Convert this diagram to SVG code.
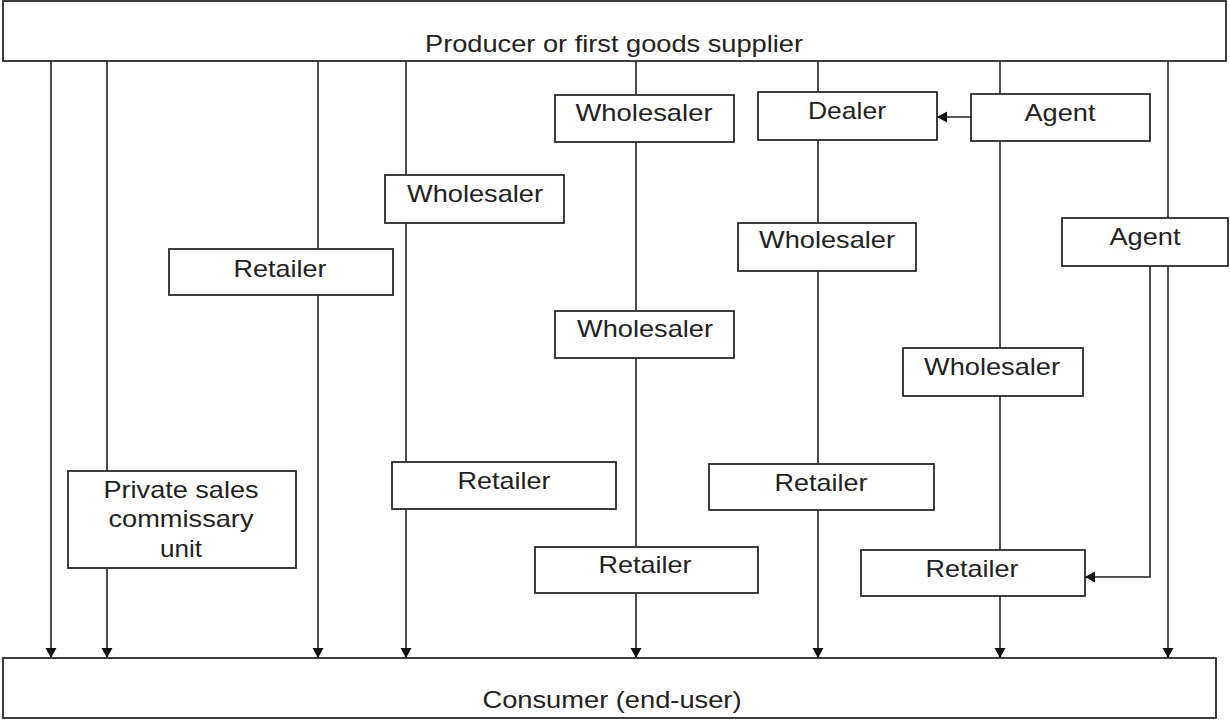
<svg xmlns="http://www.w3.org/2000/svg" width="1230" height="721" viewBox="0 0 1230 721">
<style>
.box{fill:#fff;stroke:#2a2a2a;stroke-width:1.8}
.lbl{font-family:"Liberation Sans",Arial,sans-serif;font-size:24px;fill:#222;text-anchor:middle}
.ln{fill:none;stroke:#222;stroke-width:1.6}
</style>
<defs>
<marker id="ah" markerUnits="userSpaceOnUse" markerWidth="12" markerHeight="12" refX="10" refY="6" orient="auto">
<path d="M0,0.5 L10,6 L0,11.5 z" fill="#111"/>
</marker>
</defs>
<rect width="1230" height="721" fill="#fff"/>
<g id="connectors">
<line class="ln" x1="51" y1="61" x2="51" y2="658" marker-end="url(#ah)"/>
<line class="ln" x1="107" y1="61" x2="107" y2="471"/>
<line class="ln" x1="107" y1="568" x2="107" y2="658" marker-end="url(#ah)"/>
<line class="ln" x1="318" y1="61" x2="318" y2="249"/>
<line class="ln" x1="318" y1="295" x2="318" y2="658" marker-end="url(#ah)"/>
<line class="ln" x1="406" y1="61" x2="406" y2="175"/>
<line class="ln" x1="406" y1="223" x2="406" y2="462"/>
<line class="ln" x1="406" y1="509" x2="406" y2="658" marker-end="url(#ah)"/>
<line class="ln" x1="636" y1="61" x2="636" y2="95"/>
<line class="ln" x1="636" y1="142" x2="636" y2="311"/>
<line class="ln" x1="636" y1="358" x2="636" y2="547"/>
<line class="ln" x1="636" y1="593" x2="636" y2="658" marker-end="url(#ah)"/>
<line class="ln" x1="818" y1="61" x2="818" y2="92"/>
<line class="ln" x1="818" y1="140" x2="818" y2="223"/>
<line class="ln" x1="818" y1="271" x2="818" y2="464"/>
<line class="ln" x1="818" y1="510" x2="818" y2="658" marker-end="url(#ah)"/>
<line class="ln" x1="1000" y1="61" x2="1000" y2="94"/>
<line class="ln" x1="1000" y1="141" x2="1000" y2="348"/>
<line class="ln" x1="1000" y1="396" x2="1000" y2="550"/>
<line class="ln" x1="1000" y1="596" x2="1000" y2="658" marker-end="url(#ah)"/>
<line class="ln" x1="1168" y1="61" x2="1168" y2="218"/>
<line class="ln" x1="1168" y1="266" x2="1168" y2="658" marker-end="url(#ah)"/>
<line class="ln" x1="971" y1="117" x2="937" y2="117" marker-end="url(#ah)"/>
<polyline class="ln" points="1150,266 1150,577 1085,577" marker-end="url(#ah)"/>
</g>
<g id="producer">
<rect class="box" x="3" y="1" width="1223" height="60"/>
<text class="lbl" x="614" y="52" textLength="378" lengthAdjust="spacingAndGlyphs">Producer or first goods supplier</text>
</g>
<g id="consumer">
<rect class="box" x="3" y="658" width="1213" height="60"/>
<text class="lbl" x="612" y="708" textLength="259" lengthAdjust="spacingAndGlyphs">Consumer (end-user)</text>
</g>
<g id="private-sales">
<rect class="box" x="68" y="471" width="228" height="97"/>
<text class="lbl" x="181" y="498" textLength="155" lengthAdjust="spacingAndGlyphs">Private sales</text>
<text class="lbl" x="181" y="527" textLength="145" lengthAdjust="spacingAndGlyphs">commissary</text>
<text class="lbl" x="181" y="557" textLength="42" lengthAdjust="spacingAndGlyphs">unit</text>
</g>
<g id="retailer-1">
<rect class="box" x="169" y="249" width="224" height="46"/>
<text class="lbl" x="280" y="277" textLength="93" lengthAdjust="spacingAndGlyphs">Retailer</text>
</g>
<g id="wholesaler-2">
<rect class="box" x="385" y="175" width="179" height="48"/>
<text class="lbl" x="475" y="202" textLength="136" lengthAdjust="spacingAndGlyphs">Wholesaler</text>
</g>
<g id="retailer-2">
<rect class="box" x="392" y="462" width="224" height="47"/>
<text class="lbl" x="504" y="489" textLength="93" lengthAdjust="spacingAndGlyphs">Retailer</text>
</g>
<g id="wholesaler-3a">
<rect class="box" x="555" y="95" width="179" height="47"/>
<text class="lbl" x="644" y="121" textLength="137" lengthAdjust="spacingAndGlyphs">Wholesaler</text>
</g>
<g id="wholesaler-3b">
<rect class="box" x="555" y="311" width="179" height="47"/>
<text class="lbl" x="645" y="337" textLength="136" lengthAdjust="spacingAndGlyphs">Wholesaler</text>
</g>
<g id="retailer-3">
<rect class="box" x="535" y="547" width="223" height="46"/>
<text class="lbl" x="645" y="573" textLength="93" lengthAdjust="spacingAndGlyphs">Retailer</text>
</g>
<g id="dealer">
<rect class="box" x="758" y="92" width="179" height="48"/>
<text class="lbl" x="847" y="119" textLength="78" lengthAdjust="spacingAndGlyphs">Dealer</text>
</g>
<g id="wholesaler-4">
<rect class="box" x="738" y="223" width="178" height="48"/>
<text class="lbl" x="827" y="248" textLength="136" lengthAdjust="spacingAndGlyphs">Wholesaler</text>
</g>
<g id="retailer-4">
<rect class="box" x="709" y="464" width="225" height="46"/>
<text class="lbl" x="821" y="491" textLength="93" lengthAdjust="spacingAndGlyphs">Retailer</text>
</g>
<g id="agent-1">
<rect class="box" x="971" y="94" width="179" height="47"/>
<text class="lbl" x="1060" y="121" textLength="71" lengthAdjust="spacingAndGlyphs">Agent</text>
</g>
<g id="wholesaler-5">
<rect class="box" x="903" y="348" width="180" height="48"/>
<text class="lbl" x="992" y="375" textLength="136" lengthAdjust="spacingAndGlyphs">Wholesaler</text>
</g>
<g id="retailer-5">
<rect class="box" x="861" y="550" width="224" height="46"/>
<text class="lbl" x="972" y="577" textLength="93" lengthAdjust="spacingAndGlyphs">Retailer</text>
</g>
<g id="agent-2">
<rect class="box" x="1062" y="218" width="166" height="48"/>
<text class="lbl" x="1145" y="245" textLength="71" lengthAdjust="spacingAndGlyphs">Agent</text>
</g>
</svg>
